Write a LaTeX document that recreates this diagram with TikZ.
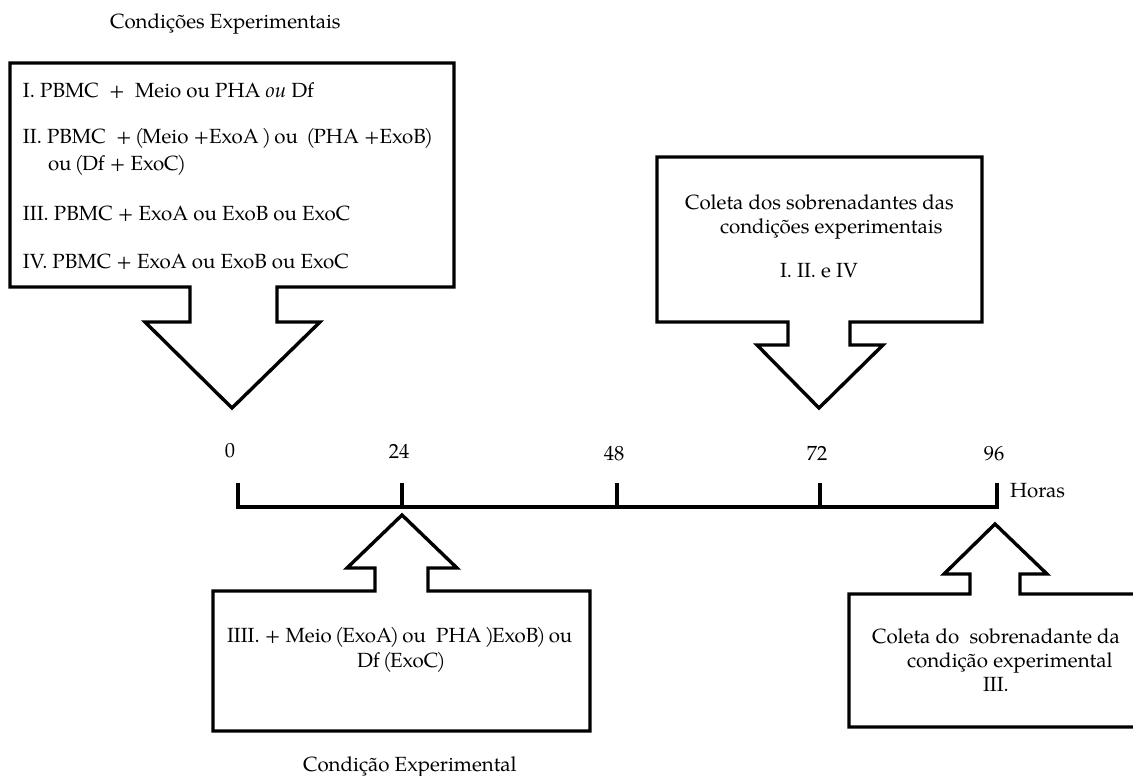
\documentclass[tikz,border=0pt]{standalone}
\usepackage{fontspec}
\setmainfont{TeX Gyre Pagella}
\newcommand\lpar{\kern-2pt(\kern-2pt}
\newcommand\rpar{\kern-2pt)\kern-2pt}
\begin{document}
\begin{tikzpicture}[x=1pt,y=-1pt,
  shapeline/.style={draw=black,line width=3.4pt,line join=miter},
  lbl/.style={inner sep=0pt,outer sep=0pt,anchor=base west,font=\fontsize{20.5}{25}\selectfont},
  num/.style={inner sep=0pt,outer sep=0pt,anchor=base,font=\fontsize{20.5}{25}\selectfont}]
\useasboundingbox[fill=white] (0,0) rectangle (1133,776);
\frenchspacing
% top-left callout
\draw[shapeline] (10,63) -- (454,63) -- (454,287) -- (277,287) -- (277,322) -- (320,322) -- (232,408) -- (145,322) -- (190,322) -- (190,287) -- (10,287) -- cycle;
% top-right callout
\draw[shapeline] (657,157) -- (982,157) -- (982,322) -- (850,322) -- (850,345) -- (883,345) -- (819,408) -- (757,345) -- (788,345) -- (788,322) -- (657,322) -- cycle;
% bottom-left callout
\draw[shapeline] (402,515) -- (457,568) -- (428,568) -- (428,591) -- (590,591) -- (590,731) -- (213,731) -- (213,591) -- (375,591) -- (375,568) -- (347,568) -- cycle;
% bottom-right callout (cut at right edge)
\draw[shapeline] (1136,594) -- (1020,594) -- (1020,574) -- (1047,574) -- (995,524) -- (944,574) -- (970,574) -- (970,594) -- (849,594) -- (849,727) -- (1136,727);
% timeline
\coordinate (t0) at (238,507);
\coordinate (t96) at (997,507);
\draw[shapeline] (238,483) -- (t0) -- (t96) -- (997,483);
\draw[shapeline] (402,483) -- (402,507);
\draw[shapeline] (617,483) -- (617,507);
\draw[shapeline] (820,483) -- (820,507);
% texts
\node[lbl] (title1) at (110,29) {Condições Experimentais};
\node[lbl] (c1) at (23,97) {I. PBMC\ \ +\ \ Meio ou PHA \textit{ou} Df};
\node[lbl] (c2) at (23,143) {II. PBMC\ \ + \lpar Meio +ExoA \rpar\ ou\ \ \lpar PHA +ExoB\rpar};
\node[lbl] (c2b) at (48,170) {ou \lpar Df + ExoC\rpar};
\node[lbl] (c3) at (23,220) {III. PBMC + ExoA ou ExoB ou ExoC};
\node[lbl] (c4) at (23,268) {IV. PBMC + ExoA ou ExoB ou ExoC};
\node[lbl] (r1) at (685,209) {Coleta dos sobrenadantes das};
\node[lbl] (r2) at (720,233) {condições experimentais};
\node[lbl] (r3) at (780,277) {I. II. e IV};
\node[num] (h0) at (230,457) {0};
\node[num] (h24) at (399,458) {24};
\node[num] (h48) at (614,460) {48};
\node[num] (h72) at (817,460) {72};
\node[num] (h96) at (994,460) {96};
\node[lbl] (horas) at (1010,497) {Horas};
\node[lbl] (b1) at (227,642) {IIII. + Meio \lpar ExoA\rpar\ ou\ \ PHA \rpar ExoB\rpar\ ou};
\node[lbl] (b2) at (357,667) {Df \lpar ExoC\rpar};
\node[lbl] (title2) at (303,771) {Condição Experimental};
\node[lbl] (d1) at (872,643) {Coleta do\ \ sobrenadante da};
\node[lbl] (d2) at (907,667) {condição experimental};
\node[lbl] (d3) at (983,691) {III.};
\end{tikzpicture}
\end{document}
